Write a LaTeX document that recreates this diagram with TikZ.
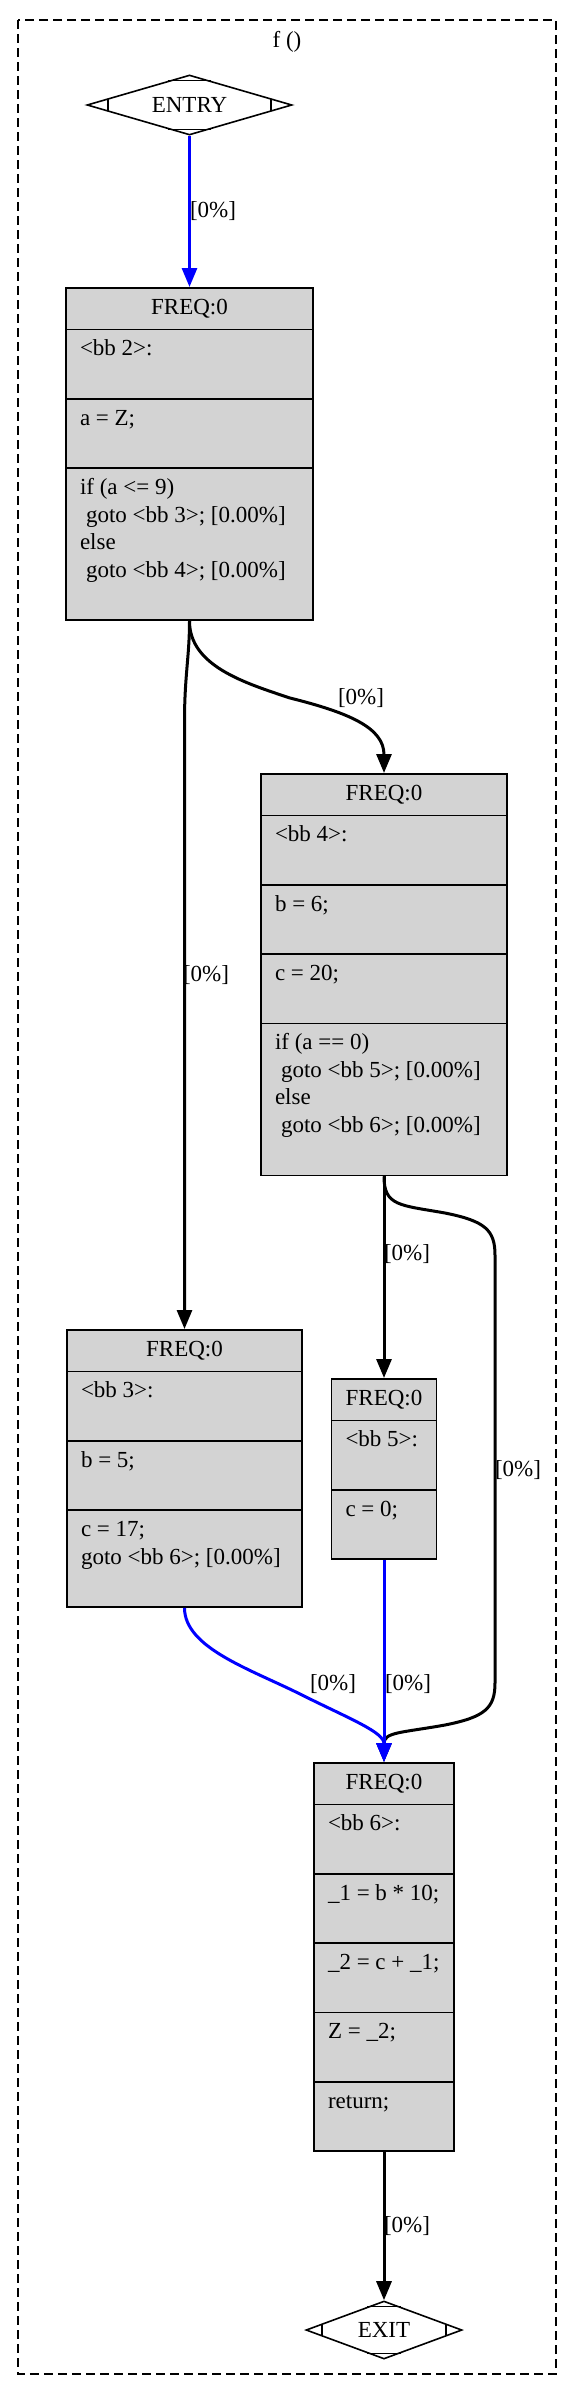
\documentclass[tikz,border=0pt]{standalone}
\usepackage{fontspec}
\setmainfont{Liberation Serif}
\usepackage{tikz}
\usetikzlibrary{arrows.meta,shapes.geometric,shapes.multipart,calc}
\usepackage{xcolor}
\definecolor{bbgray}{HTML}{D3D3D3}
\newcommand{\bbind}{\strut\hspace*{6pt}}

\begin{document}
\begin{tikzpicture}[x=1pt,y=-1pt,>={Triangle[length=19pt,width=15pt]},
  every node/.style={font=\fontsize{23}{27.6}\selectfont},
  block/.style={draw,line width=1.6pt,fill=bbgray,rectangle split,
    rectangle split parts=#1,rectangle split part align={center,left},
    inner xsep=14pt,inner ysep=6.25pt,align=left,anchor=north},
  term/.style={diamond,draw,line width=1.6pt,fill=white,aspect=3.4,inner sep=0pt},
  cluster/.style={draw,line width=1.6pt,dash pattern=on 9pt off 5pt},
  blackedge/.style={->,line width=3pt},
  blueedge/.style={->,line width=3pt,blue},
  elabel/.style={inner sep=0pt}]

\useasboundingbox (0,0) rectangle (576,2393);

% cluster frame of f ()
\draw[cluster] (18,20) rectangle (556,2374);
\node (ftitle) at (287,42) {f ()};

% entry and exit
\node[term,minimum width=205pt,minimum height=60pt] (entry) at (189.5,105) {ENTRY};
\node[term,minimum width=156pt,minimum height=58pt] (exit) at (384,2330) {EXIT};

% corner marks of the Mdiamond shapes
\foreach \n in {entry,exit}{
  \draw[line width=1.6pt] ($(\n.north)!.21!(\n.west)$) -- ($(\n.north)!.21!(\n.east)$);
  \draw[line width=1.6pt] ($(\n.south)!.21!(\n.west)$) -- ($(\n.south)!.21!(\n.east)$);
  \draw[line width=1.6pt] ($(\n.west)!.21!(\n.north)$) -- ($(\n.west)!.21!(\n.south)$);
  \draw[line width=1.6pt] ($(\n.east)!.21!(\n.north)$) -- ($(\n.east)!.21!(\n.south)$);
}

% basic blocks
\node[block=4,minimum width=247pt] (bb2) at (189.5,287)
 {\strut FREQ:0
  \nodepart{two}\strut <bb 2>:\\\strut
  \nodepart{three}\strut a = Z;\\\strut
  \nodepart{four}\strut if (a <= 9)\\\bbind goto <bb 3>; [0.00\%]\\\strut else\\\bbind goto <bb 4>; [0.00\%]\\\strut};

\node[block=5,minimum width=246pt] (bb4) at (384,773)
 {\strut FREQ:0
  \nodepart{two}\strut <bb 4>:\\\strut
  \nodepart{three}\strut b = 6;\\\strut
  \nodepart{four}\strut c = 20;\\\strut
  \nodepart{five}\strut if (a == 0)\\\bbind goto <bb 5>; [0.00\%]\\\strut else\\\bbind goto <bb 6>; [0.00\%]\\\strut};

\node[block=4,minimum width=235pt] (bb3) at (184.5,1329)
 {\strut FREQ:0
  \nodepart{two}\strut <bb 3>:\\\strut
  \nodepart{three}\strut b = 5;\\\strut
  \nodepart{four}\strut c = 17;\\\strut goto <bb 6>; [0.00\%]\\\strut};

\node[block=3,minimum width=105pt] (bb5) at (384,1378)
 {\strut FREQ:0
  \nodepart{two}\strut <bb 5>:\\\strut
  \nodepart{three}\strut c = 0;\\\strut};

\node[block=6,minimum width=140pt] (bb6) at (384,1762)
 {\strut FREQ:0
  \nodepart{two}\strut <bb 6>:\\\strut
  \nodepart{three}\strut \_1 = b * 10;\\\strut
  \nodepart{four}\strut \_2 = c + \_1;\\\strut
  \nodepart{five}\strut Z = \_2;\\\strut
  \nodepart{six}\strut return;\\\strut};

% edges
\draw[blueedge] (entry.south) -- (bb2.north);
\draw[blackedge] (bb2.south) .. controls +(0,35) and +(0,-45) .. ++(-5,100) -- (bb3.north);
\draw[blackedge] (bb2.south) .. controls +(0,45) and +(-45,-15) .. (290,698)
  .. controls +(60,15) and +(0,-45) .. (bb4.north);
\draw[blackedge] (bb4.south) -- (bb5.north);
\draw[blackedge] (bb4.south) .. controls +(0,30) and +(-45,-8) .. (445,1213)
  .. controls +(40,8) and +(0,-25) .. (495,1255) -- (495,1683)
  .. controls +(0,25) and +(40,-8) .. (445,1725)
  .. controls +(-45,8) and +(0,-30) .. (bb6.north);
\draw[blueedge] (bb3.south) .. controls +(0,40) and +(-50,-25) .. (300,1694)
  .. controls +(50,25) and +(0,-30) .. (bb6.north);
\draw[blueedge] (bb5.south) -- (bb6.north);
\draw[blackedge] (bb6.south) -- (exit.north);

% edge labels
\node[elabel] (l-entry) at (213,211) {[0\%]};
\node[elabel] (l-bb2-bb4) at (361,698) {[0\%]};
\node[elabel] (l-bb2-bb3) at (206,975) {[0\%]};
\node[elabel] (l-bb4-bb5) at (407,1254) {[0\%]};
\node[elabel] (l-bb4-bb6) at (518,1470) {[0\%]};
\node[elabel] (l-bb3-bb6) at (333,1684) {[0\%]};
\node[elabel] (l-bb5-bb6) at (408,1684) {[0\%]};
\node[elabel] (l-bb6-exit) at (407,2226) {[0\%]};

\end{tikzpicture}
\end{document}
